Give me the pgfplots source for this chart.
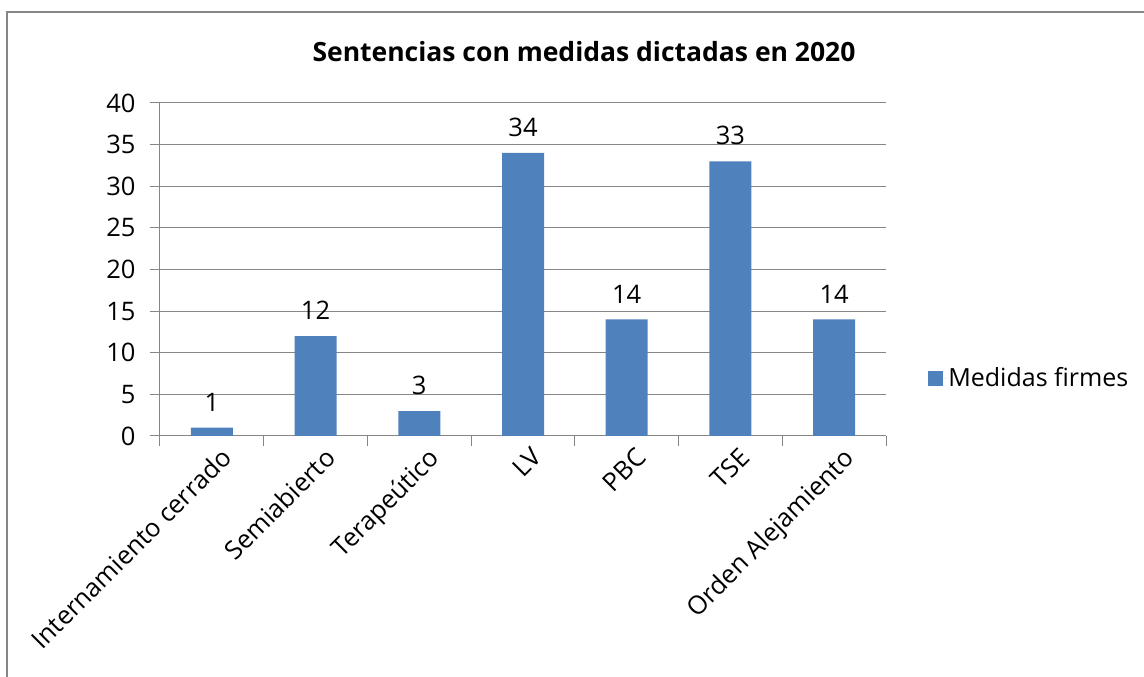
\documentclass[border=0pt]{standalone}
\usepackage{fontspec}
\setmainfont{Open Sans}
\usepackage{pgfplots}
\pgfplotsset{compat=1.18}
\definecolor{barblue}{HTML}{4F81BD}
\definecolor{gridgray}{HTML}{868686}
\begin{document}
\begin{tikzpicture}[x=1pt,y=1pt]
\useasboundingbox (0,0) rectangle (1144,677);
\draw[gridgray, line width=1.6pt] (7,-2) -- (7,665) -- (1146,665);
\node[font=\fontsize{26.5}{30}\selectfont\bfseries, anchor=center] at (584,625) {Sentencias con medidas dictadas en 2020};
\begin{axis}[
  at={(160pt,241pt)}, anchor=south west,
  scale only axis, width=726pt, height=333pt,
  xmin=-0.5, xmax=6.5, ymin=0, ymax=40,
  ytick={0,5,...,40},
  xtick={0,...,6},
  xticklabels={Internamiento cerrado,Semiabierto,Terapeútico,LV,PBC,TSE,Orden Alejamiento},
  minor xtick={-0.5,0.5,...,6.5},
  major x tick style={draw=none},
  minor tick length=10pt, major tick length=10pt,
  tick align=outside,
  xtick pos=bottom, ytick pos=left,
  tick style={gridgray, line width=1pt},
  ymajorgrids, grid style={gridgray, line width=1pt},
  axis line style={gridgray, line width=1pt},
  axis x line*=bottom, axis y line*=left,
  separate axis lines,
  y axis line style={-}, x axis line style={-},
  /pgf/number format/assume math mode=true,
  tick label style={font=\fontsize{25.5}{29}\selectfont},
  yticklabel style={xshift=-11pt},
  xticklabel style={rotate=45, anchor=north east, xshift=9pt, yshift=-2pt},
  ybar, bar width=42pt,
  nodes near coords,
  every node near coord/.append style={font=\fontsize{25.5}{29}\selectfont, anchor=south, inner sep=0pt, yshift=16pt, black},
  legend style={at={(1.058,0.174)}, anchor=west, draw=none, fill=none, font=\fontsize{25}{29}\selectfont, inner sep=0pt},
  legend image code/.code={\fill[barblue] (0pt,-7.5pt) rectangle (15pt,7.5pt); \path (0pt,0pt) -- (18pt,0pt);},
]
\addplot[fill=barblue, draw=none] coordinates {(0,1) (1,12) (2,3) (3,34) (4,14) (5,33) (6,14)};
\addlegendentry{Medidas firmes}
\end{axis}
\end{tikzpicture}
\end{document}
